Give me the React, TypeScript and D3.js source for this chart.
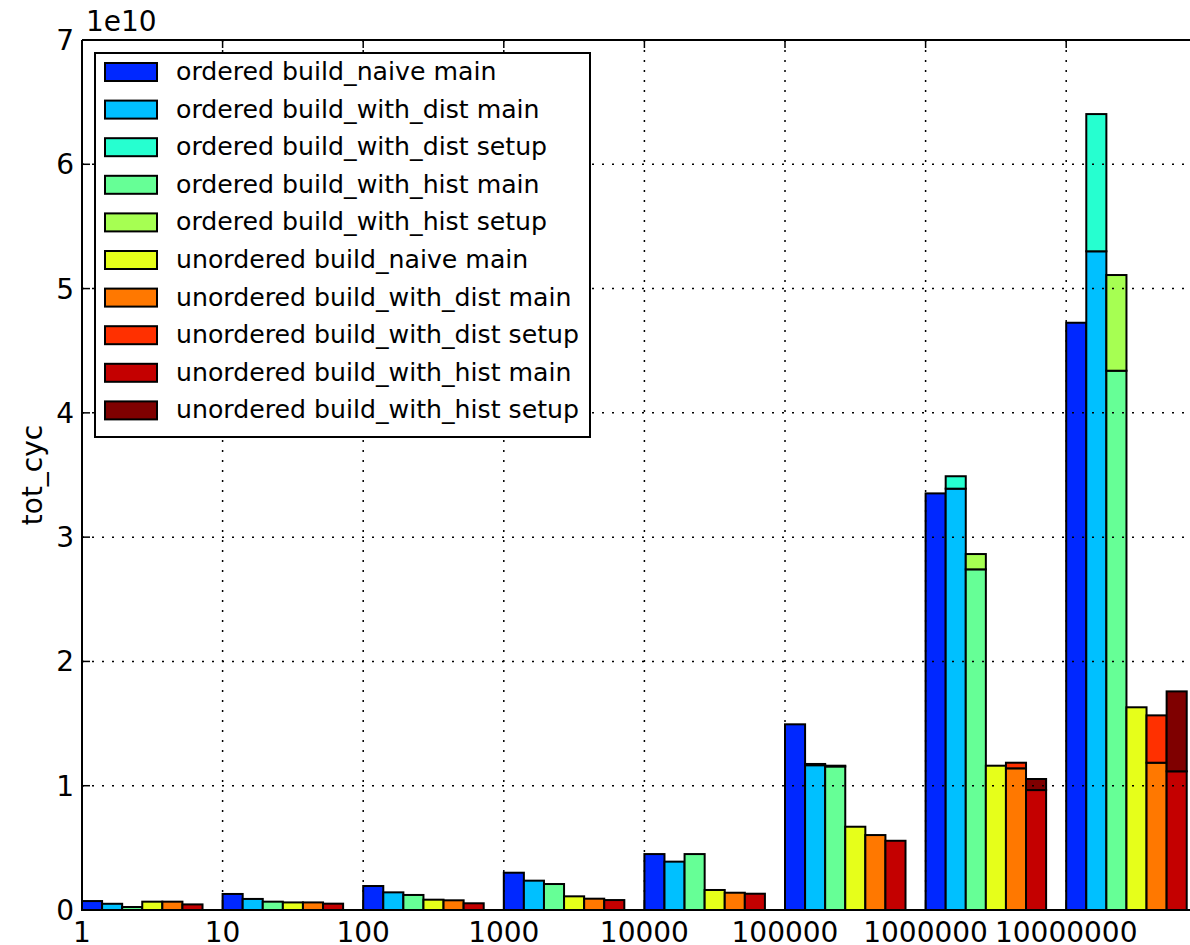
import React from "react";
import * as d3 from "d3";

// one group per input size, 6 bars per group (main + optional setup stacked)
const sizes = ["1", "10", "100", "1000", "10000", "100000", "1000000", "10000000"];

// values in units of 1e10 cycles
const orderedNaiveMain = [0.072, 0.129, 0.193, 0.3, 0.45, 1.494, 3.352, 4.725];
const orderedDistMain = [0.05, 0.089, 0.142, 0.236, 0.389, 1.165, 3.39, 5.3];
const orderedDistSetup = [0, 0, 0, 0, 0, 0.01, 0.1, 1.104];
const orderedHistMain = [0.024, 0.067, 0.121, 0.209, 0.45, 1.155, 2.741, 4.339];
const orderedHistSetup = [0, 0, 0, 0, 0, 0.006, 0.123, 0.77];
const unorderedNaiveMain = [0.067, 0.061, 0.083, 0.11, 0.161, 0.67, 1.161, 1.631];
const unorderedDistMain = [0.067, 0.061, 0.078, 0.091, 0.139, 0.603, 1.14, 1.185];
const unorderedDistSetup = [0, 0, 0, 0, 0, 0, 0.045, 0.381];
const unorderedHistMain = [0.045, 0.051, 0.054, 0.08, 0.131, 0.557, 0.965, 1.116];
const unorderedHistSetup = [0, 0, 0, 0, 0, 0, 0.089, 0.643];

const yTicks = [0, 1, 2, 3, 4, 5, 6, 7];

const legendLabels = [
  "ordered build_naive main",
  "ordered build_with_dist main",
  "ordered build_with_dist setup",
  "ordered build_with_hist main",
  "ordered build_with_hist setup",
  "unordered build_naive main",
  "unordered build_with_dist main",
  "unordered build_with_dist setup",
  "unordered build_with_hist main",
  "unordered build_with_hist setup",
];
const colors = [
  "#0028ff", "#00c0ff", "#26ffd0", "#66ff96", "#a6ff52",
  "#e6ff1a", "#ff7800", "#ff3000", "#c40000", "#7f0000",
];

// bar slot -> [main series, setup series, main colour idx, setup colour idx]
const bars: [number[], number[] | null, number, number][] = [
  [orderedNaiveMain, null, 0, -1],
  [orderedDistMain, orderedDistSetup, 1, 2],
  [orderedHistMain, orderedHistSetup, 3, 4],
  [unorderedNaiveMain, null, 5, -1],
  [unorderedDistMain, unorderedDistSetup, 6, 7],
  [unorderedHistMain, unorderedHistSetup, 8, 9],
];

const W = 1190, H = 945;
const left = 82, top = 40, bottom = 910;
const font = "DejaVu Sans, sans-serif";

export default function App() {
  const x = d3.scaleLinear().domain([0, 8]).range([left, left + 8 * 140.6]);
  const y = d3.scaleLinear().domain([0, 7]).range([bottom, top]);
  const bw = x(1 / 7) - x(0);

  const rects: JSX.Element[] = [];
  sizes.forEach((s, g) => {
    bars.forEach(([main, setup, ci, si], b) => {
      const x0 = x(g + b / 7);
      const m = main[g];
      rects.push(
        <rect key={`m${g}-${b}`} x={x0} y={y(m)} width={bw} height={y(0) - y(m)}
          fill={colors[ci]} stroke="#000" strokeWidth={2} />
      );
      if (setup && setup[g] > 0) {
        const t = m + setup[g];
        rects.push(
          <rect key={`s${g}-${b}`} x={x0} y={y(t)} width={bw} height={y(m) - y(t)}
            fill={colors[si]} stroke="#000" strokeWidth={2} />
        );
      }
    });
  });

  const grid = "2,8";

  return (
    <svg width={W} height={H} style={{ position: "absolute", left: 0, top: 0, background: "#fff" }}
      fontFamily={font}>
      <rect x={0} y={0} width={W} height={H} fill="#fff" />
      {rects}
      {/* grid over bars, like classic matplotlib */}
      {sizes.map((s, i) => i > 0 && (
        <line key={"gx" + i} x1={x(i)} x2={x(i)} y1={top} y2={bottom}
          stroke="#000" strokeWidth={1.5} strokeDasharray={grid} />
      ))}
      {yTicks.slice(1, -1).map(t => (
        <line key={"gy" + t} x1={left} x2={W + 20} y1={y(t)} y2={y(t)}
          stroke="#000" strokeWidth={1.5} strokeDasharray={grid} />
      ))}
      {/* ticks */}
      {sizes.map((s, i) => (
        <g key={"xt" + i}>
          <line x1={x(i)} x2={x(i)} y1={bottom} y2={bottom - 8} stroke="#000" strokeWidth={1.5} />
          <line x1={x(i)} x2={x(i)} y1={top} y2={top + 8} stroke="#000" strokeWidth={1.5} />
          <text x={x(i)} y={bottom + 32} textAnchor="middle" fontSize={28}>{s}</text>
        </g>
      ))}
      {yTicks.map(t => (
        <g key={"yt" + t}>
          <line x1={left} x2={left + 8} y1={y(t)} y2={y(t)} stroke="#000" strokeWidth={1.5} />
          <text x={left - 8} y={y(t) + 10} textAnchor="end" fontSize={28}>{t}</text>
        </g>
      ))}
      {/* spines */}
      <line x1={left} x2={left} y1={top} y2={bottom} stroke="#000" strokeWidth={2} />
      <line x1={left} x2={W + 20} y1={top} y2={top} stroke="#000" strokeWidth={2} />
      <line x1={left} x2={W + 20} y1={bottom} y2={bottom} stroke="#000" strokeWidth={2} />
      <text x={86} y={31} fontSize={28}>1e10</text>
      <text transform={`translate(42,${(top + bottom) / 2}) rotate(-90)`} textAnchor="middle"
        fontSize={28}>tot_cyc</text>
      {/* legend */}
      <g>
        <rect x={95} y={53} width={495} height={384} fill="#fff" stroke="#000" strokeWidth={2} />
        {legendLabels.map((l, i) => (
          <g key={"lg" + i} transform={`translate(0,${72 + i * 37.6})`}>
            <rect x={105} y={-9} width={52} height={18} fill={colors[i]} stroke="#000" strokeWidth={2} />
            <text x={176} y={8} fontSize={25.2}>{l}</text>
          </g>
        ))}
      </g>
    </svg>
  );
}
